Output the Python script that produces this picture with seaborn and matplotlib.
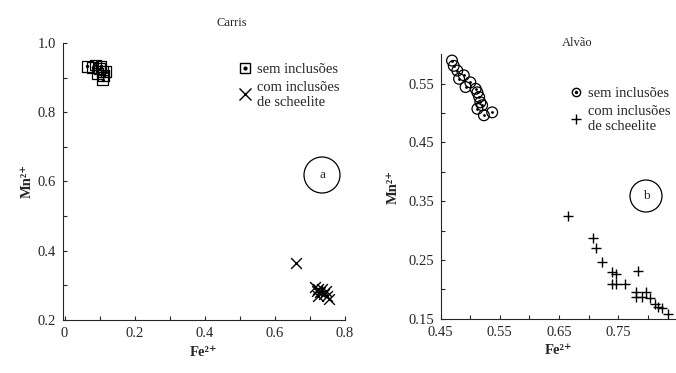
import matplotlib
matplotlib.use("Agg")
import matplotlib.pyplot as plt
import seaborn as sns
from matplotlib.lines import Line2D
from matplotlib.patches import Ellipse

# Carris - sem inclusoes / com inclusoes de scheelite
carris_sem_fe = [0.065, 0.080, 0.089, 0.094, 0.100, 0.104, 0.109, 0.112, 0.118, 0.109]
carris_sem_mn = [0.932, 0.930, 0.936, 0.912, 0.925, 0.932, 0.917, 0.905, 0.917, 0.893]
carris_com_fe = [0.660, 0.715, 0.720, 0.725, 0.730, 0.735, 0.740, 0.745, 0.750, 0.755, 0.725]
carris_com_mn = [0.366, 0.295, 0.285, 0.290, 0.280, 0.290, 0.275, 0.285, 0.270, 0.260, 0.270]

# Alvao
alvao_sem_fe = [0.469, 0.472, 0.478, 0.481, 0.489, 0.492, 0.500, 0.509, 0.512, 0.515,
                0.517, 0.520, 0.512, 0.523, 0.537]
alvao_sem_mn = [0.589, 0.580, 0.572, 0.558, 0.564, 0.544, 0.552, 0.541, 0.535, 0.527,
                0.518, 0.513, 0.507, 0.496, 0.501]
alvao_com_fe = [0.665, 0.707, 0.712, 0.722, 0.739, 0.747, 0.739, 0.747, 0.761, 0.783,
                0.780, 0.780, 0.790, 0.798, 0.804, 0.812, 0.818, 0.824, 0.835]
alvao_com_mn = [0.325, 0.287, 0.270, 0.247, 0.229, 0.226, 0.210, 0.210, 0.210, 0.232,
                0.196, 0.187, 0.187, 0.196, 0.185, 0.176, 0.171, 0.168, 0.158]

legend_labels = ['sem inclusões', 'com inclusões\nde scheelite']

sns.set_style("ticks")
plt.rcParams['font.family'] = ['Liberation Serif', 'DejaVu Serif']
plt.rcParams['font.size'] = 10
plt.rcParams['xtick.direction'] = 'in'
plt.rcParams['ytick.direction'] = 'in'

fig = plt.figure(figsize=(6.76, 3.73), dpi=100)
ax1 = fig.add_axes([0.093, 0.142, 0.417, 0.743])
ax2 = fig.add_axes([0.652, 0.145, 0.348, 0.71])

# Carris panel
sns.scatterplot(x=carris_sem_fe, y=carris_sem_mn, marker='s', s=60, facecolor='none',
                edgecolor='black', linewidth=0.9, ax=ax1)
sns.scatterplot(x=carris_sem_fe, y=carris_sem_mn, marker='o', s=6, color='black',
                linewidth=0, ax=ax1)
sns.scatterplot(x=carris_com_fe, y=carris_com_mn, marker='x', s=60, color='black',
                linewidth=1.0, ax=ax1)
ax1.set_xlim(-0.005, 0.8)
ax1.set_ylim(0.2, 1.0)
ax1.set_xticks([0, 0.2, 0.4, 0.6, 0.8])
ax1.set_xticklabels(['0', '0.2', '0.4', '0.6', '0.8'])
ax1.set_xticks([0.1, 0.3, 0.5, 0.7], minor=True)
ax1.set_yticks([0.2, 0.4, 0.6, 0.8, 1.0])
ax1.set_yticklabels(['0.2', '0.4', '0.6', '0.8', '1.0'])
ax1.set_yticks([0.3, 0.5, 0.7, 0.9], minor=True)
ax1.set_title('Carris', fontsize=9, pad=12, x=0.6)
ax1.set_xlabel('Fe²⁺', fontsize=10.5, fontweight='bold')
ax1.set_ylabel('Mn²⁺', fontsize=10.5, fontweight='bold', labelpad=3)
h_sem = (Line2D([], [], marker='s', ls='none', mfc='none', mec='black', ms=7),
         Line2D([], [], marker='o', ls='none', color='black', ms=2))
h_com = Line2D([], [], marker='x', ls='none', color='black', ms=8)
ax1.legend([h_sem, h_com], legend_labels,
           loc='upper left', bbox_to_anchor=(0.568, 0.975), frameon=False,
           handletextpad=0.2, handlelength=1.2, labelspacing=0.3, fontsize=10.5)
fig.patches.append(Ellipse((322 / 676, 1 - 175 / 373), 36 / 676, 36 / 373,
                           transform=fig.transFigure, fill=False, lw=0.9, color='black'))
fig.text(322 / 676, 1 - 175 / 373, 'a', ha='center', va='center', fontsize=9.5)

# Alvao panel
sns.scatterplot(x=alvao_sem_fe, y=alvao_sem_mn, marker='o', s=60, facecolor='none',
                edgecolor='black', linewidth=0.9, ax=ax2)
sns.scatterplot(x=alvao_sem_fe, y=alvao_sem_mn, marker='o', s=4, color='black',
                linewidth=0, ax=ax2)
sns.scatterplot(x=alvao_com_fe, y=alvao_com_mn, marker='+', s=60, color='black',
                linewidth=1.0, ax=ax2)
ax2.set_xlim(0.45, 0.848)
ax2.set_ylim(0.15, 0.60)
ax2.set_xticks([0.45, 0.55, 0.65, 0.75])
ax2.set_xticklabels(['0.45', '0.55', '0.65', '0.75'])
ax2.set_xticks([0.50, 0.60, 0.70, 0.80], minor=True)
ax2.set_yticks([0.15, 0.25, 0.35, 0.45, 0.55])
ax2.set_yticklabels(['0.15', '0.25', '0.35', '0.45', '0.55'])
ax2.set_yticks([0.20, 0.30, 0.40, 0.50], minor=True)
ax2.set_title('Alvão', fontsize=9, pad=6, x=0.58)
ax2.set_xlabel('Fe²⁺', fontsize=10.5, fontweight='bold')
ax2.set_ylabel('Mn²⁺', fontsize=10.5, fontweight='bold', labelpad=6)
h_sem2 = (Line2D([], [], marker='o', ls='none', mfc='none', mec='black', ms=6),
          Line2D([], [], marker='o', ls='none', color='black', ms=1.5))
h_com2 = Line2D([], [], marker='+', ls='none', color='black', ms=7)
ax2.legend([h_sem2, h_com2], legend_labels,
           loc='upper left', bbox_to_anchor=(0.482, 0.925), frameon=False,
           handletextpad=0.2, handlelength=1.2, labelspacing=0.3, fontsize=10.5)
fig.patches.append(Ellipse((646 / 676, 1 - 196 / 373), 32 / 676, 32 / 373,
                           transform=fig.transFigure, fill=False, lw=0.9, color='black'))
fig.text(646 / 676, 1 - 196 / 373, 'b', ha='center', va='center', fontsize=9.5)

for ax in (ax1, ax2):
    sns.despine(ax=ax)
    ax.tick_params(which='both', length=3, width=0.8, labelsize=10.5, pad=5)

fig.savefig('out.png', dpi=100)
